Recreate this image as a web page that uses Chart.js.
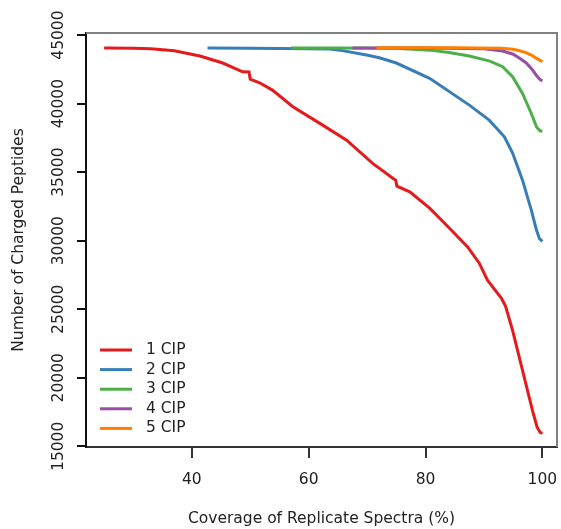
<!DOCTYPE html>
<html>
<head>
<meta charset="utf-8">
<script src="https://cdn.jsdelivr.net/npm/chart.js@4/dist/chart.umd.min.js"></script>
<style>
  body { margin: 0; background: #fff; }
  canvas { display: block; }
</style>
</head>
<body>
<canvas id="grafica" width="561" height="529"></canvas>
<script>
// series names and colours
let nombres = ['1 CIP', '2 CIP', '3 CIP', '4 CIP', '5 CIP'];
let colores = ['#E41A1C', '#377EB8', '#4DAF4A', '#984EA3', '#FF7F00'];

// coverage (%) and number of charged peptides
let x1cip = [25, 30, 33, 37, 41.4, 45.3, 48.7, 49.8, 50.0, 51.6, 53.8, 57.3, 62.4, 66.5, 70.9, 74.4, 74.9, 75.1, 77.3, 80.7, 83.6, 87.2, 89.2, 90.6, 93.0, 93.7, 94.9, 96.6, 98.3, 99.1, 99.6, 100];
let y1cip = [44050, 44030, 44000, 43850, 43470, 42960, 42320, 42300, 41790, 41520, 40985, 39770, 38430, 37335, 35656, 34560, 34415, 33980, 33560, 32370, 31130, 29545, 28356, 27115, 25800, 25217, 23465, 20545, 17625, 16400, 16020, 15950];

let x2cip = [42.7, 50, 60, 63.6, 65.3, 69.9, 72.1, 75.0, 80.7, 87.5, 90.9, 93.5, 94.9, 96.6, 98.1, 99.0, 99.5, 100];
let y2cip = [44050, 44040, 44010, 43980, 43900, 43540, 43340, 42960, 41840, 39890, 38795, 37580, 36390, 34415, 32225, 30765, 30150, 29950];

let x3cip = [57, 65, 75, 80.7, 84, 87.5, 91, 93.2, 94.9, 96.6, 98.1, 99.0, 99.6, 100];
let y3cip = [44050, 44050, 44030, 43900, 43720, 43470, 43100, 42690, 41960, 40740, 39280, 38300, 38020, 37990];

let x4cip = [67.5, 80, 90, 93.2, 95, 96.1, 97.2, 98.1, 99, 99.6, 100];
let y4cip = [44060, 44060, 44000, 43830, 43600, 43300, 42980, 42570, 42050, 41750, 41660];

let x5cip = [71.6, 85, 93, 95, 96.1, 97.2, 98.1, 99, 100];
let y5cip = [44080, 44080, 44040, 43960, 43850, 43720, 43540, 43300, 43050];

// tick labels
let ticksX = [40, 60, 80, 100];
let ticksY = [15000, 20000, 25000, 30000, 35000, 40000, 45000];

let fuente = 'DejaVu Sans';
let tam = 15.5;
let series = [[x1cip, y1cip], [x2cip, y2cip], [x3cip, y3cip], [x4cip, y4cip], [x5cip, y5cip]];

function puntos(xs, ys){
  return xs.map((x, i) => ({x: x, y: ys[i]}));
}

let datasets = series.map((s, i) => ({
  label: nombres[i],
  data: puntos(s[0], s[1]),
  borderColor: colores[i],
  borderWidth: 3,
  pointRadius: 0,
  tension: 0,
  fill: false,
  order: series.length - i
}));

// gray box on top/right, black axes are drawn by the scales
let caja = {
  id: 'caja',
  beforeDatasetsDraw(chart){
    let c = chart.ctx, a = chart.chartArea;
    c.save();
    c.strokeStyle = '#808080';
    c.lineWidth = 2;
    c.beginPath();
    c.moveTo(a.left, a.top);
    c.lineTo(a.right, a.top);
    c.lineTo(a.right, a.bottom);
    c.stroke();
    c.restore();
  }
};

// rotated y tick labels
let etiquetasY = {
  id: 'etiquetasY',
  afterDraw(chart){
    let c = chart.ctx, y = chart.scales.y;
    c.save();
    c.fillStyle = '#222';
    c.font = tam + 'px "' + fuente + '"';
    c.textAlign = 'center';
    c.textBaseline = 'middle';
    ticksY.forEach(v => {
      c.save();
      c.translate(59, y.getPixelForValue(v));
      c.rotate(-Math.PI / 2);
      c.fillText(String(v), 0, 0);
      c.restore();
    });
    c.restore();
  }
};

// legend inside the plot, bottom-left
let leyenda = {
  id: 'leyenda',
  afterDatasetsDraw(chart){
    let c = chart.ctx, a = chart.chartArea;
    c.save();
    c.font = tam + 'px "' + fuente + '"';
    c.textBaseline = 'middle';
    c.textAlign = 'left';
    nombres.forEach((n, i) => {
      let yy = a.bottom - 97 + i * 19.6;
      c.strokeStyle = colores[i];
      c.lineWidth = 3;
      c.beginPath();
      c.moveTo(a.left + 14, yy);
      c.lineTo(a.left + 46, yy);
      c.stroke();
      c.fillStyle = '#222';
      c.fillText(n, a.left + 60, yy);
    });
    c.restore();
  }
};

let grafica = document.querySelector('#grafica').getContext('2d');
let chart = new Chart(grafica, {
  type: 'line',
  data: { datasets: datasets },
  options: {
    responsive: false,
    animation: false,
    layout: { padding: { top: 33, right: 4, left: 0, bottom: 0 } },
    plugins: { legend: { display: false }, tooltip: { enabled: false } },
    scales: {
      x: {
        type: 'linear',
        min: 21.9,
        max: 102.5,
        afterBuildTicks: s => { s.ticks = ticksX.map(v => ({value: v})); },
        afterFit: s => { s.height = 82; s.paddingLeft = 0; s.paddingRight = 0; },
        border: { color: '#333', width: 2 },
        grid: { drawOnChartArea: false, color: '#333', tickLength: 11, lineWidth: 2 },
        ticks: { color: '#222', font: { family: fuente, size: tam }, padding: 13, maxRotation: 0 },
        title: { display: true, text: 'Coverage of Replicate Spectra (%)', color: '#222', font: { family: fuente, size: tam }, padding: { top: 0, bottom: 1 } }
      },
      y: {
        type: 'linear',
        min: 14950,
        max: 45150,
        afterBuildTicks: s => { s.ticks = ticksY.map(v => ({value: v})); },
        afterFit: s => { s.width = 86; s.paddingTop = 0; s.paddingBottom = 0; },
        border: { color: '#111', width: 2 },
        grid: { drawOnChartArea: false, color: '#111', tickLength: 9, lineWidth: 2 },
        ticks: { display: false },
        title: { display: true, text: 'Number of Charged Peptides', color: '#222', font: { family: fuente, size: tam }, padding: { top: 10, bottom: 0 } }
      }
    }
  },
  plugins: [caja, leyenda, etiquetasY]
});
</script>
</body>
</html>
